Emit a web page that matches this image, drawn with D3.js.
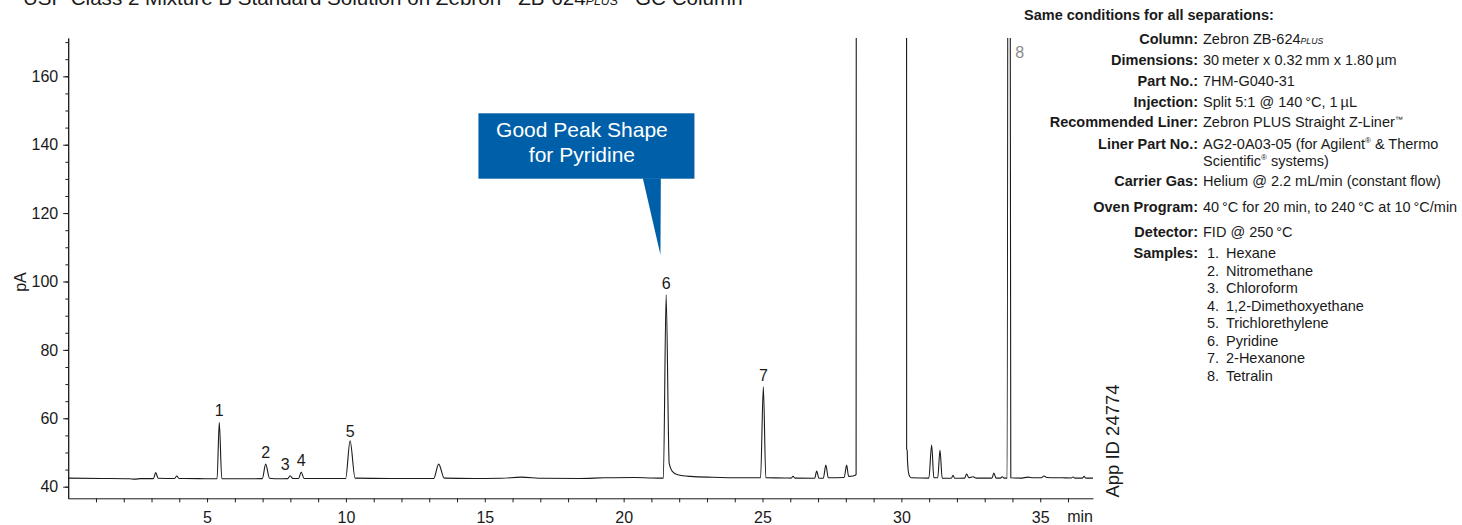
<!DOCTYPE html>
<html>
<head>
<meta charset="utf-8">
<script src="https://cdn.jsdelivr.net/npm/d3@7"></script>
<style>
  body { margin: 0; background: #fff; }
  svg { display: block; }
</style>
</head>
<body>
<svg id="chart" width="1462" height="525"></svg>
<script>
// FID chromatogram: retention time (min), detector signal (pA)
const trace = [
  [0.00, 42.5], [1.2, 42.4], [2.2, 42.3], [2.4, 42.2], [2.6, 42.35],
  [3.07, 42.35], [3.15, 44.1], [3.24, 42.45],
  [3.83, 42.4], [3.91, 43.1], [3.99, 42.4],
  [4.7, 42.35],
  [5.36, 42.3], [5.44, 58.8], [5.53, 42.3],
  [6.3, 42.3],
  [6.99, 42.35], [7.11, 46.6], [7.25, 42.45],
  [7.6, 42.3],
  [7.9, 42.35], [7.99, 43.2], [8.09, 42.4],
  [8.3, 42.4], [8.39, 44.3], [8.49, 42.4],
  [9.2, 42.4],
  [9.99, 42.4], [10.15, 53.4], [10.33, 42.5],
  [11.6, 42.4],
  [13.16, 42.4], [13.34, 46.6], [13.54, 42.5],
  [14.6, 42.4],
  [15.6, 42.45], [16.3, 42.8], [17.1, 42.45],
  [18.4, 42.4], [19.3, 42.6], [20.4, 42.7], [21.0, 42.55],
  [21.43, 42.5], [21.53, 96.1], [21.64, 46.8], [21.75, 44.5], [21.95, 43.5], [22.4, 43.0], [23.2, 42.75], [24.3, 42.6],
  [24.93, 42.6], [25.03, 69.2], [25.12, 42.6],
  [25.8, 42.55],
  [26.03, 42.5], [26.1, 43.0], [26.17, 42.5],
  [26.88, 42.45], [26.95, 44.6], [27.03, 42.45],
  [27.19, 42.5], [27.28, 46.3], [27.37, 42.6],
  [27.94, 42.7], [28.03, 46.3], [28.1, 43.0],
  [28.3, 43.2], [28.37, 43.6], [28.39, 520],
  [30.18, 520], [30.19, 51.0], [30.21, 50.6], [30.22, 47.8], [30.27, 43.6], [30.36, 42.6],
  [30.99, 42.5], [31.09, 52.2], [31.17, 42.6],
  [31.31, 42.6], [31.39, 50.7], [31.47, 42.5],
  [31.8, 42.45], [31.86, 43.3], [31.92, 42.45],
  [32.28, 42.5], [32.35, 43.7], [32.43, 42.6], [32.58, 42.9], [32.7, 42.5],
  [33.26, 42.5], [33.33, 44.0], [33.41, 42.5],
  [33.57, 42.5], [33.63, 42.9], [33.7, 42.5],
  [33.81, 42.5], [33.87, 520], [33.94, 42.6],
  [34.3, 42.5], [34.56, 42.8], [34.75, 42.6],
  [35.04, 42.6], [35.13, 43.1], [35.24, 42.7],
  [35.8, 42.6],
  [36.12, 42.55], [36.19, 42.85], [36.25, 42.5],
  [36.52, 42.5], [36.58, 43.0], [36.64, 42.5],
  [36.9, 42.5]
];

// Numbered peaks: retention time and apex height (null = off scale)
const peakNumbers = ["1", "2", "3", "4", "5", "6", "7", "8"];
const peakTimes   = [5.44, 7.11, 7.99, 8.39, 10.15, 21.53, 25.03, 33.87];
const peakApex    = [58.8, 46.6, 43.2, 44.3, 53.4, 96.1, 69.2, null];

// Axis ticks
const xMajorTicks = [5, 10, 15, 20, 25, 30, 35];
const xMinorTicks = d3.range(1, 37);
const yMajorTicks = [40, 60, 80, 100, 120, 140, 160];
const yMinorTicks = d3.range(40, 171, 5);

// Method conditions
const conditionLabels = ["Column:", "Dimensions:", "Part No.:", "Injection:", "Recommended Liner:",
  "Liner Part No.:", "", "Carrier Gas:", "Oven Program:", "Detector:", "Samples:"];
const conditionValues = ["Zebron ZB-624[PLUS]", "30\u2009meter x 0.32\u2009mm x 1.80\u2009\u00b5m", "7HM-G040-31",
  "Split 5:1 @ 140\u2009\u00b0C, 1\u2009\u00b5L", "Zebron PLUS Straight Z-Liner^\u2122",
  "AG2-0A03-05 (for Agilent^\u00ae & Thermo", "Scientific^\u00ae systems)",
  "Helium @ 2.2 mL/min (constant flow)", "40\u2009\u00b0C for 20 min, to 240\u2009\u00b0C at 10\u2009\u00b0C/min",
  "FID @ 250\u2009\u00b0C", ""];
const sampleNames = ["Hexane", "Nitromethane", "Chloroform", "1,2-Dimethoxyethane",
  "Trichlorethylene", "Pyridine", "2-Hexanone", "Tetralin"];

const titleText = "USP Class 2 Mixture B Standard Solution on Zebron^\u2122 ZB-624[PLUS]^\u2122 GC Column";
const calloutLines = ["Good Peak Shape", "for Pyridine"];
const appId = "App ID 24774";

// ---- layout ----
const svg = d3.select("#chart");
const SANS = "'Liberation Sans', Arial, Helvetica, sans-serif";
const INK = "#1a1a1a";

const plot = { left: 68.2, right: 1093, top: 38, bottom: 498.3 };
const x = d3.scaleLinear().domain([0, 36.9]).range([plot.left, plot.right]);
const y = d3.scaleLinear().domain([36.6, 171.2]).range([plot.bottom, plot.top]);

// text with [PLUS] small italics and ^ superscript marks
function richText(sel, str, size) {
  const parts = str.split(/(\[PLUS\]|\^[\u2122\u00ae])/).filter(s => s.length);
  let back = 0;
  parts.forEach(p => {
    if (p === "[PLUS]") {
      sel.append("tspan").attr("font-size", size * 0.6).attr("font-style", "italic")
        .attr("dy", back || null).text("PLUS");
      back = 0;
    } else if (p[0] === "^") {
      const lift = size * 0.38;
      sel.append("tspan").attr("font-size", size * 0.55).attr("dy", -lift + back).text(p.slice(1));
      back = lift;
    } else {
      sel.append("tspan").attr("dy", back || null).text(p);
      back = 0;
    }
  });
}

// title (sits partly above the page edge)
const title = svg.append("text").attr("x", 23).attr("y", 5)
  .attr("font-family", SANS).attr("font-size", 20.6).attr("fill", INK);
richText(title, titleText, 20.6);

// clip for the trace
svg.append("defs").append("clipPath").attr("id", "plotClip")
  .append("rect").attr("x", plot.left).attr("y", plot.top)
  .attr("width", plot.right - plot.left).attr("height", plot.bottom - plot.top);

// axes
const yAxisMinor = d3.axisLeft(y).tickValues(yMinorTicks).tickSize(2.8).tickSizeOuter(0).tickFormat("");
const yAxis = d3.axisLeft(y).tickValues(yMajorTicks).tickSize(5).tickSizeOuter(0).tickPadding(5);
const xAxis = d3.axisBottom(x).tickValues(xMinorTicks).tickSize(4).tickSizeOuter(0).tickPadding(9)
  .tickFormat(d => xMajorTicks.includes(d) ? d : "");

function styleAxis(g) {
  g.select(".domain").attr("stroke", INK).attr("stroke-width", 1);
  g.selectAll(".tick line").attr("stroke", INK).attr("stroke-width", 1);
  g.selectAll(".tick text").attr("fill", INK).attr("font-family", SANS).attr("font-size", 16);
}
svg.append("g").attr("transform", `translate(${plot.left},0)`).call(yAxisMinor).call(styleAxis);
svg.append("g").attr("transform", `translate(${plot.left},0)`).call(yAxis).call(styleAxis);
svg.append("g").attr("transform", `translate(0,${plot.bottom})`).call(xAxis).call(styleAxis);

svg.append("text").attr("transform", `translate(25.5,282) rotate(-90)`)
  .attr("text-anchor", "middle").attr("font-family", SANS).attr("font-size", 16).attr("fill", INK).text("pA");
svg.append("text").attr("x", plot.right).attr("y", 522).attr("text-anchor", "end")
  .attr("font-family", SANS).attr("font-size", 16).attr("fill", INK).text("min");

// chromatogram trace
const line = d3.line().x(d => x(d[0])).y(d => y(d[1])).curve(d3.curveMonotoneX);
svg.append("path").datum(trace).attr("clip-path", "url(#plotClip)")
  .attr("d", line).attr("fill", "none").attr("stroke", INK).attr("stroke-width", 1.1)
  .attr("stroke-linejoin", "round");

// peak numbers
const labelShift = { "3": -5, "5": 2 };
peakNumbers.forEach((n, i) => {
  const px = x(peakTimes[i]);
  if (peakApex[i] === null) {
    svg.append("text").attr("x", px + 6.5).attr("y", plot.top + 19.5)
      .attr("font-family", SANS).attr("font-size", 16).attr("fill", "#8a8a8a").text(n);
  } else {
    svg.append("text").attr("x", px + (n === "3" ? labelShift["3"] : 0))
      .attr("y", y(peakApex[i]) - 6 + (n === "5" ? labelShift["5"] : 0))
      .attr("text-anchor", "middle").attr("font-family", SANS).attr("font-size", 16)
      .attr("fill", INK).text(n);
  }
});

// callout pointing at the pyridine peak
const p6 = peakNumbers.indexOf("6");
const tipX = x(peakTimes[p6]) - 5.7, tipY = y(peakApex[p6]) - 40;
const box = { x0: tipX - 182, x1: tipX + 34, y0: 113.3, y1: 178.7 };
const BLUE = "#005fa9";
svg.append("rect").attr("x", box.x0).attr("y", box.y0)
  .attr("width", box.x1 - box.x0).attr("height", box.y1 - box.y0).attr("fill", BLUE);
svg.append("path").attr("fill", BLUE)
  .attr("d", `M${tipX - 17.6},${box.y1 - 0.5} L${tipX + 0.4},${box.y1 - 0.5} L${tipX},${tipY} Z`);
calloutLines.forEach((t, i) => {
  svg.append("text").attr("x", tipX - 78.5).attr("y", 137 + i * 25)
    .attr("text-anchor", "middle").attr("font-family", SANS).attr("font-size", 21)
    .attr("fill", "#fff").text(t);
});

// conditions panel
const PANEL_SIZE = 14.5;
const labelX = 1198, valueX = 1203;
svg.append("text").attr("x", 1024).attr("y", 19.5).attr("font-family", SANS)
  .attr("font-weight", "bold").attr("font-size", PANEL_SIZE).attr("fill", INK)
  .text("Same conditions for all separations:");
const rowBaselines = [44.3, 65, 86, 106.7, 127.3, 149, 165.7, 186, 211.7, 237.3, 258.3];
conditionLabels.forEach((lab, i) => {
  if (lab) {
    svg.append("text").attr("x", labelX).attr("y", rowBaselines[i]).attr("text-anchor", "end")
      .attr("font-family", SANS).attr("font-weight", "bold").attr("font-size", PANEL_SIZE)
      .attr("fill", INK).text(lab);
  }
  if (conditionValues[i]) {
    const t = svg.append("text").attr("x", valueX).attr("y", rowBaselines[i])
      .attr("font-family", SANS).attr("font-size", PANEL_SIZE).attr("fill", INK);
    richText(t, conditionValues[i], PANEL_SIZE);
  }
});
const sampleTop = rowBaselines[rowBaselines.length - 1];
sampleNames.forEach((name, i) => {
  const yy = sampleTop + i * 17.48;
  svg.append("text").attr("x", 1207).attr("y", yy).attr("font-family", SANS)
    .attr("font-size", PANEL_SIZE).attr("fill", INK).text(`${i + 1}.`);
  svg.append("text").attr("x", 1226).attr("y", yy).attr("font-family", SANS)
    .attr("font-size", PANEL_SIZE).attr("fill", INK).text(name);
});

// application id
svg.append("text").attr("transform", "translate(1119,441) rotate(-90)").attr("text-anchor", "middle")
  .attr("font-family", SANS).attr("font-size", 18.5).attr("fill", INK).text(appId);
</script>
</body>
</html>
